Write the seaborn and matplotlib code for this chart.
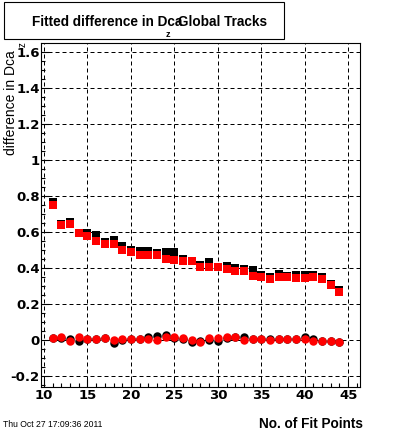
import numpy as np
import pandas as pd
import matplotlib
matplotlib.use("Agg")
import matplotlib.pyplot as plt
import seaborn as sns
from matplotlib.ticker import MultipleLocator, FixedLocator, FixedFormatter
from matplotlib.patches import Rectangle

# ---- data ----
fit_points = list(range(11, 45))
black_upper = [0.765, 0.644, 0.655, 0.593, 0.594, 0.583, 0.543, 0.556, 0.522, 0.500,
               0.496, 0.493, 0.481, 0.489, 0.489, 0.448, 0.437, 0.416, 0.431, 0.404,
               0.411, 0.400, 0.394, 0.389, 0.359, 0.348, 0.367, 0.356, 0.359, 0.359,
               0.359, 0.348, 0.311, 0.278]
red_upper = [0.752, 0.641, 0.644, 0.593, 0.578, 0.548, 0.533, 0.533, 0.500, 0.487,
             0.474, 0.470, 0.474, 0.452, 0.444, 0.437, 0.437, 0.404, 0.404, 0.404,
             0.393, 0.382, 0.382, 0.358, 0.352, 0.337, 0.348, 0.352, 0.344, 0.344,
             0.352, 0.341, 0.304, 0.267]
black_lower = [0.010, 0.012, 0.007, -0.004, 0.006, 0.006, 0.010, -0.013, 0.002, 0.004,
               0.006, 0.020, 0.022, 0.026, 0.012, 0.008, -0.008, -0.004, 0.000, -0.007,
               0.014, 0.015, 0.015, 0.006, 0.007, 0.004, 0.006, 0.007, 0.008, 0.015,
               0.007, -0.002, -0.004, -0.011]
red_lower = [0.013, 0.015, -0.004, 0.015, 0.009, 0.009, 0.013, 0.000, 0.004, 0.007,
             0.009, 0.007, 0.002, 0.017, 0.015, 0.011, 0.002, -0.011, 0.011, 0.011,
             0.017, 0.020, 0.002, 0.006, 0.007, 0.002, 0.006, 0.007, 0.007, 0.007,
             -0.004, -0.004, -0.004, -0.011]
x_ticks = [10, 15, 20, 25, 30, 35, 40, 45]
y_ticks = [-0.2, 0, 0.2, 0.4, 0.6, 0.8, 1.0, 1.2, 1.4, 1.6]
y_tick_labels = ["-0.2", "0", "0.2", "0.4", "0.6", "0.8", "1", "1.2", "1.4", "1.6"]

df = pd.DataFrame({"x": fit_points, "bu": black_upper, "ru": red_upper,
                   "bl": black_lower, "rl": red_lower})

W, H = 400, 433
fig = plt.figure(figsize=(W / 100, H / 100), dpi=100)
fig.patch.set_facecolor("white")

L, R, T, B = 41, 360, 43.3, 386.7
ax = fig.add_axes([L / W, (H - B) / H, (R - L) / W, (B - T) / H])

sq = 38
ci = 37
sns.scatterplot(data=df, x="x", y="bu", ax=ax, color="black", marker="s", s=sq, linewidth=0, zorder=3)
sns.scatterplot(data=df, x="x", y="bl", ax=ax, color="black", marker="o", s=ci, linewidth=0, zorder=3)
sns.scatterplot(data=df, x="x", y="ru", ax=ax, color="red", marker="s", s=sq, linewidth=0, zorder=4)
sns.scatterplot(data=df, x="x", y="rl", ax=ax, color="red", marker="o", s=ci, linewidth=0, zorder=4)

ax.set_xlim(9.65, 46.36)
ax.set_ylim(-0.258, 1.646)

ax.xaxis.set_major_locator(FixedLocator(x_ticks))
ax.xaxis.set_minor_locator(MultipleLocator(1))
ax.yaxis.set_major_locator(FixedLocator(y_ticks))
ax.yaxis.set_major_formatter(FixedFormatter(y_tick_labels))
ax.yaxis.set_minor_locator(MultipleLocator(0.05))

ax.grid(True, which="major", color="black", linestyle=(0, (4, 3)), linewidth=0.72)
ax.set_axisbelow(True)

for s in ax.spines.values():
    s.set_linewidth(0.8)
    s.set_color("black")

ax.tick_params(axis="both", which="major", direction="in", length=6, width=0.8,
               top=False, right=False, pad=2)
ax.tick_params(axis="both", which="minor", direction="in", length=3, width=0.8,
               top=False, right=False)
for lab in ax.get_xticklabels() + ax.get_yticklabels():
    lab.set_fontfamily("DejaVu Sans")
    lab.set_fontweight("bold")
    lab.set_fontsize(9.5)
ax.tick_params(axis="y", pad=1)

ax.set_xlabel("")
ax.set_ylabel("")

# axis titles
fig.text(363 / W, (H - 428) / H, "No. of Fit Points", ha="right", va="baseline",
         fontfamily="Liberation Sans", fontweight="bold", fontsize=9.8)
fig.text(18 / W, (H - 50) / H, "difference in Dca", rotation=90, ha="right", va="top",
         fontfamily="Liberation Sans", fontsize=10)
fig.text(23 / W, (H - 45) / H, "z", rotation=90, ha="center", va="center",
         fontfamily="Liberation Sans", fontsize=7)

# title box
fig.patches.append(Rectangle((4 / W, (H - 39) / H), 280 / W, 37 / H,
                             transform=fig.transFigure, facecolor="white",
                             edgecolor="black", linewidth=0.8, zorder=5))
fig.text(32 / W, (H - 26) / H, "Fitted difference in Dca", ha="left", va="baseline",
         fontfamily="Liberation Sans", fontweight="bold", fontsize=9.8, zorder=6)
fig.text(178 / W, (H - 26) / H, "Global Tracks", ha="left", va="baseline",
         fontfamily="Liberation Sans", fontweight="bold", fontsize=9.8, zorder=6)
fig.text(168 / W, (H - 29.8) / H, "z", ha="center", va="top",
         fontfamily="Liberation Sans", fontweight="bold", fontsize=6.5, zorder=6)

# timestamp
fig.text(3 / W, (H - 427) / H, "Thu Oct 27 17:09:36 2011", ha="left", va="baseline",
         fontfamily="Liberation Sans", fontsize=6.2)

fig.savefig("out.png", dpi=100, facecolor="white")
